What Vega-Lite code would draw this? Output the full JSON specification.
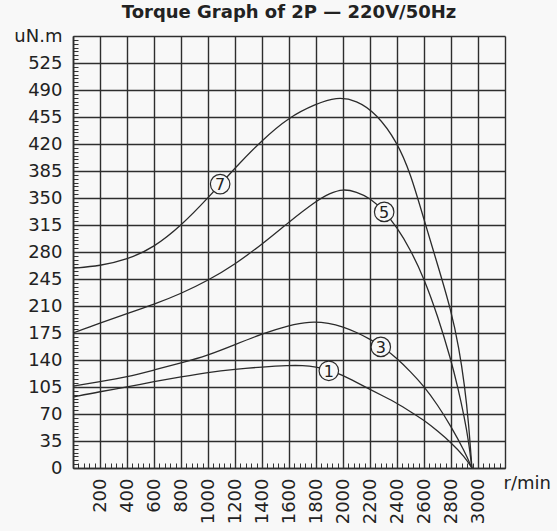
{
  "$schema": "https://vega.github.io/schema/vega-lite/v6.json",
  "width": 432,
  "height": 432,
  "autosize": {"type": "none"},
  "padding": {"left": 73, "top": 36, "right": 52, "bottom": 63},
  "background": "#f8f8f8",
  "title": {"text": "Torque Graph of 2P — 220V/50Hz", "font": "DejaVu Sans", "fontSize": 18, "fontWeight": "bold", "color": "#222222", "anchor": "middle", "offset": 5},
  "config": {"view": {"stroke": null}},
  "datasets": {
    "curves": [
      {"model": "7", "rpm": 0, "torque": 259}, {"model": "7", "rpm": 200, "torque": 262}, {"model": "7", "rpm": 400, "torque": 270}, {"model": "7", "rpm": 600, "torque": 286}, {"model": "7", "rpm": 800, "torque": 314}, {"model": "7", "rpm": 1000, "torque": 350}, {"model": "7", "rpm": 1200, "torque": 389}, {"model": "7", "rpm": 1400, "torque": 425}, {"model": "7", "rpm": 1600, "torque": 455}, {"model": "7", "rpm": 1800, "torque": 472}, {"model": "7", "rpm": 1950, "torque": 481}, {"model": "7", "rpm": 2100, "torque": 477}, {"model": "7", "rpm": 2250, "torque": 459}, {"model": "7", "rpm": 2400, "torque": 423}, {"model": "7", "rpm": 2500, "torque": 382}, {"model": "7", "rpm": 2600, "torque": 322}, {"model": "7", "rpm": 2700, "torque": 264}, {"model": "7", "rpm": 2800, "torque": 205}, {"model": "7", "rpm": 2860, "torque": 155}, {"model": "7", "rpm": 2900, "torque": 108}, {"model": "7", "rpm": 2930, "torque": 60}, {"model": "7", "rpm": 2955, "torque": 0},
      {"model": "5", "rpm": 0, "torque": 175}, {"model": "5", "rpm": 200, "torque": 188}, {"model": "5", "rpm": 400, "torque": 200}, {"model": "5", "rpm": 600, "torque": 212}, {"model": "5", "rpm": 800, "torque": 226}, {"model": "5", "rpm": 1000, "torque": 243}, {"model": "5", "rpm": 1200, "torque": 264}, {"model": "5", "rpm": 1400, "torque": 290}, {"model": "5", "rpm": 1600, "torque": 319}, {"model": "5", "rpm": 1800, "torque": 346}, {"model": "5", "rpm": 1900, "torque": 356}, {"model": "5", "rpm": 2000, "torque": 362}, {"model": "5", "rpm": 2100, "torque": 358}, {"model": "5", "rpm": 2200, "torque": 350}, {"model": "5", "rpm": 2300, "torque": 334}, {"model": "5", "rpm": 2400, "torque": 312}, {"model": "5", "rpm": 2500, "torque": 283}, {"model": "5", "rpm": 2600, "torque": 246}, {"model": "5", "rpm": 2700, "torque": 198}, {"model": "5", "rpm": 2800, "torque": 140}, {"model": "5", "rpm": 2850, "torque": 105}, {"model": "5", "rpm": 2900, "torque": 65}, {"model": "5", "rpm": 2930, "torque": 35}, {"model": "5", "rpm": 2955, "torque": 0},
      {"model": "3", "rpm": 0, "torque": 106}, {"model": "3", "rpm": 200, "torque": 112}, {"model": "3", "rpm": 400, "torque": 118}, {"model": "3", "rpm": 600, "torque": 127}, {"model": "3", "rpm": 800, "torque": 136}, {"model": "3", "rpm": 1000, "torque": 146}, {"model": "3", "rpm": 1200, "torque": 160}, {"model": "3", "rpm": 1400, "torque": 174}, {"model": "3", "rpm": 1600, "torque": 185}, {"model": "3", "rpm": 1750, "torque": 190}, {"model": "3", "rpm": 1900, "torque": 188}, {"model": "3", "rpm": 2000, "torque": 183}, {"model": "3", "rpm": 2100, "torque": 176}, {"model": "3", "rpm": 2200, "torque": 167}, {"model": "3", "rpm": 2300, "torque": 156}, {"model": "3", "rpm": 2400, "torque": 142}, {"model": "3", "rpm": 2500, "torque": 125}, {"model": "3", "rpm": 2600, "torque": 106}, {"model": "3", "rpm": 2700, "torque": 82}, {"model": "3", "rpm": 2800, "torque": 54}, {"model": "3", "rpm": 2900, "torque": 22}, {"model": "3", "rpm": 2955, "torque": 0},
      {"model": "1", "rpm": 0, "torque": 92}, {"model": "1", "rpm": 200, "torque": 99}, {"model": "1", "rpm": 400, "torque": 105}, {"model": "1", "rpm": 600, "torque": 112}, {"model": "1", "rpm": 800, "torque": 118}, {"model": "1", "rpm": 1000, "torque": 124}, {"model": "1", "rpm": 1200, "torque": 128}, {"model": "1", "rpm": 1400, "torque": 131}, {"model": "1", "rpm": 1600, "torque": 133}, {"model": "1", "rpm": 1700, "torque": 133}, {"model": "1", "rpm": 1800, "torque": 131}, {"model": "1", "rpm": 1900, "torque": 127}, {"model": "1", "rpm": 2000, "torque": 120}, {"model": "1", "rpm": 2100, "torque": 111}, {"model": "1", "rpm": 2200, "torque": 102}, {"model": "1", "rpm": 2300, "torque": 93}, {"model": "1", "rpm": 2400, "torque": 84}, {"model": "1", "rpm": 2500, "torque": 73}, {"model": "1", "rpm": 2600, "torque": 62}, {"model": "1", "rpm": 2700, "torque": 48}, {"model": "1", "rpm": 2800, "torque": 33}, {"model": "1", "rpm": 2900, "torque": 15}, {"model": "1", "rpm": 2955, "torque": 0}
    ],
    "labels": [
      {"model": "7", "rpm": 1090, "torque": 368},
      {"model": "5", "rpm": 2305, "torque": 332},
      {"model": "3", "rpm": 2280, "torque": 157},
      {"model": "1", "rpm": 1895, "torque": 126}
    ]
  },
  "encoding": {
    "x": {
      "field": "rpm", "type": "quantitative",
      "scale": {"domain": [0, 3200], "nice": false, "zero": false},
      "axis": {
        "values": [0,40,80,120,160,200,240,280,320,360,400,440,480,520,560,600,640,680,720,760,800,840,880,920,960,1000,1040,1080,1120,1160,1200,1240,1280,1320,1360,1400,1440,1480,1520,1560,1600,1640,1680,1720,1760,1800,1840,1880,1920,1960,2000,2040,2080,2120,2160,2200,2240,2280,2320,2360,2400,2440,2480,2520,2560,2600,2640,2680,2720,2760,2800,2840,2880,2920,2960,3000,3040,3080,3120,3160,3200],
        "format": "d",
        "grid": true,
        "gridColor": {"condition": {"test": "datum.value % 200 === 0", "value": "#2e2e2e"}, "value": "transparent"},
        "gridWidth": 1.4,
        "ticks": true,
        "tickSize": -5,
        "tickColor": "#333333",
        "tickWidth": 1,
        "labelExpr": "(datum.value % 200 === 0 && datum.value > 0 && datum.value < 3200) ? datum.label : ''",
        "labelAngle": -90,
        "labelFont": "DejaVu Sans",
        "labelFontSize": 18,
        "labelColor": "#222222",
        "labelPadding": 15,
        "labelOverlap": false,
        "labelFlush": false,
        "domainColor": "#2e2e2e",
        "domainWidth": 1.6,
        "title": "r/min",
        "titleAngle": 0,
        "titleX": 430,
        "titleY": 15,
        "titleAlign": "left",
        "titleBaseline": "middle",
        "titleFont": "DejaVu Sans",
        "titleFontSize": 18,
        "titleFontWeight": "normal",
        "titleColor": "#222222"
      }
    },
    "y": {
      "field": "torque", "type": "quantitative",
      "scale": {"domain": [0, 560], "nice": false},
      "axis": {
        "values": [0,5,10,15,20,25,30,35,40,45,50,55,60,65,70,75,80,85,90,95,100,105,110,115,120,125,130,135,140,145,150,155,160,165,170,175,180,185,190,195,200,205,210,215,220,225,230,235,240,245,250,255,260,265,270,275,280,285,290,295,300,305,310,315,320,325,330,335,340,345,350,355,360,365,370,375,380,385,390,395,400,405,410,415,420,425,430,435,440,445,450,455,460,465,470,475,480,485,490,495,500,505,510,515,520,525,530,535,540,545,550,555,560],
        "grid": true,
        "gridColor": {"condition": {"test": "datum.value % 35 === 0", "value": "#2e2e2e"}, "value": "transparent"},
        "gridWidth": 1.4,
        "ticks": true,
        "tickSize": -5,
        "tickColor": "#333333",
        "tickWidth": 1,
        "labelExpr": "datum.value === 560 ? 'uN.m' : (datum.value % 35 === 0 ? datum.label : '')",
        "labelFont": "DejaVu Sans",
        "labelFontSize": 18,
        "labelColor": "#222222",
        "labelPadding": 16,
        "labelOverlap": false,
        "labelFlush": false,
        "domainColor": "#2e2e2e",
        "domainWidth": 1.6,
        "title": null
      }
    }
  },
  "layer": [
    {
      "data": {"name": "curves"},
      "mark": {"type": "line", "interpolate": "basis", "color": "#2b2b2b", "strokeWidth": 1.3},
      "encoding": {"detail": {"field": "model", "type": "nominal"}}
    },
    {
      "data": {"name": "labels"},
      "mark": {"type": "point", "shape": "circle", "filled": true, "fill": "#f8f8f8", "stroke": "#2b2b2b", "strokeWidth": 1.2, "size": 380, "opacity": 1}
    },
    {
      "data": {"name": "labels"},
      "mark": {"type": "text", "font": "DejaVu Sans", "fontSize": 16, "color": "#222222", "align": "center", "baseline": "middle", "dy": 1},
      "encoding": {"text": {"field": "model", "type": "nominal"}}
    }
  ]
}
